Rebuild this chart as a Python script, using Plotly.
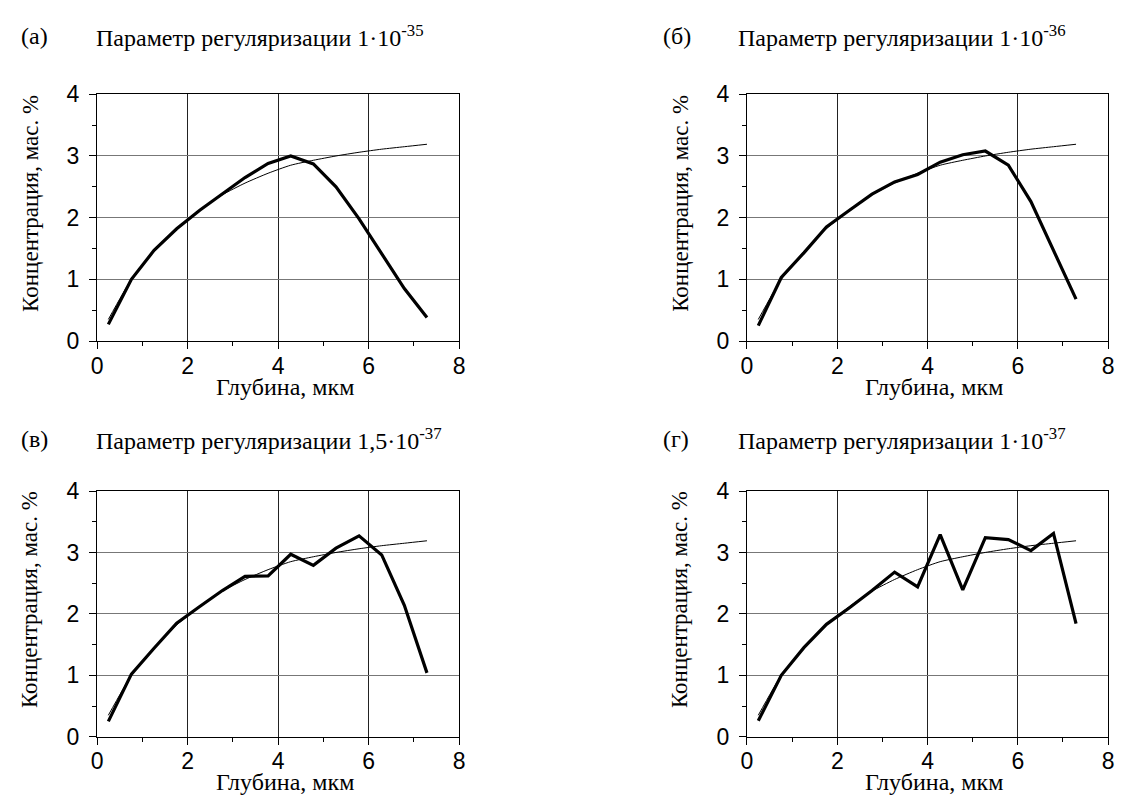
import plotly.graph_objects as go

W, H = 1123, 803

depth = [0.25, 0.76, 1.26, 1.76, 2.27, 2.77, 3.27, 3.78, 4.28, 4.78, 5.28, 5.79, 6.29, 6.79, 7.29]
fit_curve = [0.35, 1.00, 1.45, 1.82, 2.12, 2.37, 2.56, 2.72, 2.85, 2.93, 3.00, 3.06, 3.11, 3.15, 3.19]
conc_a = [0.27, 1.00, 1.47, 1.82, 2.12, 2.38, 2.65, 2.88, 3.00, 2.87, 2.50, 1.98, 1.42, 0.85, 0.38]
conc_b = [0.25, 1.03, 1.43, 1.85, 2.12, 2.38, 2.58, 2.70, 2.90, 3.02, 3.08, 2.85, 2.26, 1.47, 0.68]
conc_c = [0.25, 1.02, 1.44, 1.85, 2.12, 2.38, 2.61, 2.62, 2.97, 2.79, 3.07, 3.27, 2.96, 2.14, 1.04]
conc_d = [0.26, 1.00, 1.45, 1.83, 2.10, 2.38, 2.68, 2.44, 3.29, 2.39, 3.24, 3.21, 3.03, 3.31, 1.84]

panel_letters = ["(а)", "(б)", "(в)", "(г)"]
panel_params = ["1·10<sup>-35</sup>", "1·10<sup>-36</sup>", "1,5·10<sup>-37</sup>", "1·10<sup>-37</sup>"]
title_text = "Параметр регуляризации "
x_title = "Глубина, мкм"
y_title = "Концентрация, мас. %"
x_ticks = [0, 2, 4, 6, 8]
x_minor = [1, 3, 5, 7]
y_ticks = [0, 1, 2, 3, 4]
y_minor = [0.5, 1.5, 2.5, 3.5]

series = [conc_a, conc_b, conc_c, conc_d]

# pixel geometry of plot areas (left, right, top, bottom)
boxes = [(92, 458, 84, 339), (749, 1114, 84, 339),
         (92, 458, 494, 748), (749, 1114, 494, 748)]

SERIF = "Liberation Serif, Times New Roman, serif"
SANS = "Liberation Sans, Arial, sans-serif"

fig = go.Figure()
annotations = []
layout = dict(width=W, height=H, margin=dict(l=0, r=0, t=0, b=0),
              paper_bgcolor="white", plot_bgcolor="white", showlegend=False)


def px(x):
    return x / W


def py(y):
    return 1 - y / H


for i, (l, r, t, b) in enumerate(boxes):
    n = "" if i == 0 else str(i + 1)
    xa, ya = "x" + n, "y" + n
    fig.add_trace(go.Scatter(x=depth, y=fit_curve, mode="lines", xaxis=xa, yaxis=ya,
                             line=dict(color="black", width=1, shape="spline", smoothing=0.6),
                             hoverinfo="skip"))
    fig.add_trace(go.Scatter(x=depth, y=series[i], mode="lines", xaxis=xa, yaxis=ya,
                             line=dict(color="black", width=3.2), hoverinfo="skip"))
    layout["xaxis" + n] = dict(domain=[px(l), px(r)], anchor=ya, range=[0, 8],
                               tickvals=x_ticks, ticks="outside", ticklen=7, tickwidth=1,
                               tickcolor="black", showline=True, linecolor="black", linewidth=1,
                               mirror=True, showgrid=True, gridcolor="#222", gridwidth=1,
                               zeroline=False, ticklabelstandoff=-3,
                               minor=dict(tickvals=x_minor, ticks="outside", ticklen=4,
                                          tickcolor="black", showgrid=False),
                               tickfont=dict(family=SANS, size=23, color="black"), fixedrange=True)
    layout["yaxis" + n] = dict(domain=[py(b), py(t)], anchor=xa, range=[0, 4],
                               tickvals=y_ticks, ticks="outside", ticklen=7, tickwidth=1,
                               tickcolor="black", showline=True, linecolor="black", linewidth=1,
                               mirror=True, showgrid=True, gridcolor="#777", gridwidth=1,
                               zeroline=False, ticklabelstandoff=5,
                               minor=dict(tickvals=y_minor, ticks="outside", ticklen=4,
                                          tickcolor="black", showgrid=False),
                               tickfont=dict(family=SANS, size=23, color="black"), fixedrange=True)
    # panel titles
    left0 = 13 if l < 500 else 662
    ty = 24 if t < 300 else 440
    annotations.append(dict(x=px(left0), y=py(ty), xref="paper", yref="paper",
                            text=panel_letters[i], showarrow=False, xanchor="left", yanchor="middle",
                            font=dict(family=SERIF, size=24, color="black")))
    annotations.append(dict(x=px(left0 + 76), y=py(ty), xref="paper", yref="paper",
                            text=title_text + panel_params[i], showarrow=False, xanchor="left",
                            yanchor="middle", font=dict(family=SERIF, size=24, color="black")))
    # axis titles
    annotations.append(dict(x=px((l + r) / 2 + 7), y=py(b + 47), xref="paper", yref="paper",
                            text=x_title, showarrow=False, xanchor="center", yanchor="middle",
                            font=dict(family=SERIF, size=24, color="black")))
    annotations.append(dict(x=px(l - 68), y=py((t + b) / 2 - 15), xref="paper", yref="paper",
                            text=y_title, showarrow=False, textangle=-90, xanchor="center",
                            yanchor="middle", font=dict(family=SERIF, size=23, color="black")))

layout["annotations"] = annotations
fig.update_layout(**layout)
fig.write_html("out.html")
